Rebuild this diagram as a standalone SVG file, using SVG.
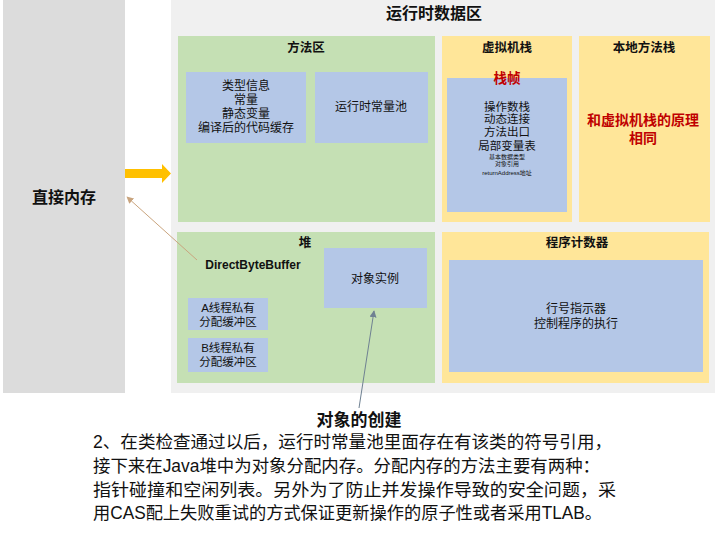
<svg xmlns="http://www.w3.org/2000/svg" width="720" height="541" viewBox="0 0 720 541">
<defs>
<style>
text{font-family:"Liberation Sans","Noto Sans CJK SC",sans-serif;fill:#111;text-anchor:middle}
.t{font-size:12.5px;font-weight:bold}
.b{font-size:12px}
.s{font-size:11.5px}
.xs{font-size:6px}
.red{fill:#c00000;font-weight:bold}
.green{fill:#c5e0b4}
.blue{fill:#b4c7e7}
.yellow{fill:#ffe699}
.body{font-size:17.5px;text-anchor:start;fill:#111}
</style>
<marker id="ah" viewBox="0 0 10 10" refX="9" refY="5" markerWidth="7" markerHeight="7" orient="auto" markerUnits="userSpaceOnUse">
<path d="M0,0 L10,5 L0,10 z" fill="context-stroke"/>
</marker>
<marker id="ahBrown" viewBox="0 0 10 10" refX="9" refY="5" markerWidth="7" markerHeight="7" orient="auto" markerUnits="userSpaceOnUse">
<path d="M0,0 L10,5 L0,10 z" fill="#c9a47e"/>
</marker>
<marker id="ahGrey" viewBox="0 0 10 10" refX="9" refY="5" markerWidth="7" markerHeight="7" orient="auto" markerUnits="userSpaceOnUse">
<path d="M0,0 L10,5 L0,10 z" fill="#6f8192"/>
</marker>
</defs>
<rect width="720" height="541" fill="#ffffff"/>

<g id="direct-memory">
<rect x="3" y="0" width="122" height="393" fill="#dcdcdc"/>
<text x="64" y="203" style="font-size:16px;font-weight:bold">直接内存</text>
</g>

<g id="runtime-data-area">
<rect x="171" y="0" width="544" height="393" fill="#f0f0f0"/>
<text x="434" y="19" style="font-size:16px;font-weight:bold">运行时数据区</text>
</g>

<g id="method-area">
<rect class="green" x="178" y="36" width="257" height="186"/>
<text class="t" x="306" y="52">方法区</text>
</g>
<g id="class-info">
<rect class="blue" x="186" y="72" width="120" height="71"/>
<text class="b" x="246" y="90">类型信息</text>
<text class="b" x="246" y="104">常量</text>
<text class="b" x="246" y="118">静态变量</text>
<text class="b" x="246" y="132">编译后的代码缓存</text>
</g>
<g id="runtime-constant-pool">
<rect class="blue" x="315" y="72" width="113" height="71"/>
<text class="b" x="371" y="111">运行时常量池</text>
</g>

<g id="vm-stack">
<rect class="yellow" x="442" y="36" width="130" height="186"/>
<text class="t" x="507" y="52">虚拟机栈</text>
</g>
<g id="stack-frame">
<rect class="blue" x="447" y="78" width="120" height="134"/>
<text class="red" x="507" y="83" style="font-size:13.5px">栈帧</text>
<text class="s" x="507" y="111">操作数栈</text>
<text class="s" x="507" y="123">动态连接</text>
<text class="s" x="507" y="136">方法出口</text>
<text class="s" x="507" y="150">局部变量表</text>
<text class="xs" x="507" y="159">基本数据类型</text>
<text class="xs" x="507" y="166">对象引用</text>
<text class="xs" x="507" y="175">returnAddress地址</text>
</g>

<g id="native-stack">
<rect class="yellow" x="579" y="36" width="131" height="186"/>
<text class="t" x="644" y="52">本地方法栈</text>
<text class="red" x="643" y="125" style="font-size:14px">和虚拟机栈的原理</text>
<text class="red" x="643" y="143" style="font-size:14px">相同</text>
</g>

<g id="heap">
<rect class="green" x="177" y="232" width="258" height="151"/>
<text class="t" x="305" y="247">堆</text>
<text x="253" y="269" style="font-size:12px;font-weight:bold">DirectByteBuffer</text>
</g>
<g id="object-instance">
<rect class="blue" x="324" y="248" width="103" height="60"/>
<text class="b" x="375" y="283">对象实例</text>
</g>
<g id="tlab-a">
<rect class="blue" x="188" y="298" width="80" height="32"/>
<text class="s" x="228" y="312">A线程私有</text>
<text class="s" x="228" y="326">分配缓冲区</text>
</g>
<g id="tlab-b">
<rect class="blue" x="188" y="338" width="80" height="34"/>
<text class="s" x="228" y="352">B线程私有</text>
<text class="s" x="228" y="366">分配缓冲区</text>
</g>

<g id="pc-register">
<rect class="yellow" x="442" y="232" width="267" height="151"/>
<text class="t" x="577" y="247">程序计数器</text>
<rect class="blue" x="449" y="260" width="254" height="112"/>
<text class="b" x="576" y="313">行号指示器</text>
<text class="b" x="576" y="328">控制程序的执行</text>
</g>

<g id="connectors">
<path d="M125,169 H162 V164 L171,173.5 L162,183 V178 H125 z" fill="#ffc000"/>
<line x1="197" y1="260" x2="127" y2="197" stroke="#c9a47e" stroke-width="1" marker-end="url(#ahBrown)"/>
<line x1="359" y1="408" x2="374" y2="311" stroke="#6f8192" stroke-width="1" marker-end="url(#ahGrey)"/>
</g>

<g id="caption">
<text x="359" y="426" style="font-size:17px;font-weight:bold">对象的创建</text>
<text class="body" x="93" y="448" textLength="519" lengthAdjust="spacingAndGlyphs">2、在类检查通过以后，运行时常量池里面存在有该类的符号引用，</text>
<text class="body" x="93" y="472" textLength="507" lengthAdjust="spacingAndGlyphs">接下来在Java堆中为对象分配内存。分配内存的方法主要有两种：</text>
<text class="body" x="93" y="496" textLength="523" lengthAdjust="spacingAndGlyphs">指针碰撞和空闲列表。另外为了防止并发操作导致的安全问题，采</text>
<text class="body" x="93" y="519" textLength="509" lengthAdjust="spacingAndGlyphs">用CAS配上失败重试的方式保证更新操作的原子性或者采用TLAB。</text>
</g>
</svg>
